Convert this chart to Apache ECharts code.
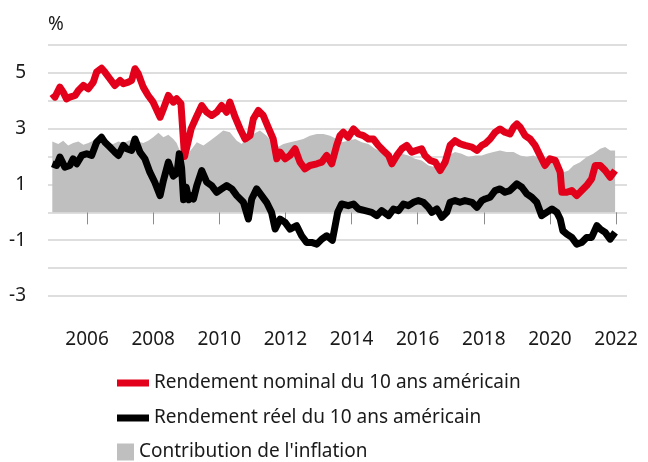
<!DOCTYPE html>
<html>
<head>
<meta charset="utf-8">
<script src="https://cdn.jsdelivr.net/npm/echarts@6/dist/echarts.min.js"></script>
<style>
  html, body { margin: 0; padding: 0; background: #fff; }
  #chart { width: 648px; height: 462px; }
</style>
</head>
<body>
<div id="chart"></div>
<script>
// Rendement nominal du 10 ans américain (années décimales / %)
const nominalYears = [2004.95,2005.03,2005.18,2005.28,2005.38,2005.48,2005.64,2005.74,2005.89,2006.04,2006.19,2006.29,2006.44,2006.54,2006.69,2006.84,2007.00,2007.10,2007.25,2007.35,2007.45,2007.55,2007.70,2007.85,2008.00,2008.21,2008.31,2008.46,2008.61,2008.71,2008.84,2008.95,2009.05,2009.15,2009.30,2009.47,2009.62,2009.77,2009.92,2010.07,2010.22,2010.32,2010.48,2010.63,2010.78,2010.93,2011.03,2011.18,2011.33,2011.48,2011.63,2011.74,2011.84,2011.99,2012.14,2012.29,2012.44,2012.59,2012.74,2012.95,2013.10,2013.25,2013.40,2013.55,2013.65,2013.75,2013.90,2014.06,2014.21,2014.36,2014.51,2014.66,2014.81,2014.96,2015.12,2015.22,2015.37,2015.52,2015.67,2015.82,2015.97,2016.12,2016.22,2016.38,2016.53,2016.68,2016.83,2016.98,2017.13,2017.28,2017.43,2017.64,2017.79,2017.94,2018.04,2018.19,2018.34,2018.49,2018.64,2018.79,2018.90,2019.00,2019.10,2019.25,2019.40,2019.55,2019.70,2019.85,2020.00,2020.16,2020.31,2020.36,2020.51,2020.66,2020.81,2020.96,2021.11,2021.26,2021.37,2021.52,2021.67,2021.82,2021.97];
const nominalValues = [4.25,4.13,4.49,4.31,4.07,4.13,4.19,4.37,4.55,4.43,4.67,5.03,5.17,5.03,4.79,4.55,4.73,4.61,4.67,4.73,5.15,4.97,4.49,4.19,3.95,3.41,3.71,4.19,3.95,4.07,3.90,2.00,2.50,3.00,3.40,3.83,3.59,3.47,3.59,3.83,3.59,3.95,3.41,2.99,2.63,2.75,3.35,3.65,3.47,3.05,2.63,1.92,2.16,1.92,2.04,2.28,1.80,1.56,1.68,1.74,1.80,2.04,1.74,2.40,2.75,2.87,2.69,2.99,2.81,2.75,2.63,2.63,2.40,2.22,2.04,1.74,2.04,2.28,2.40,2.16,2.22,2.28,2.04,1.86,1.80,1.50,1.80,2.40,2.57,2.46,2.40,2.34,2.22,2.40,2.46,2.63,2.87,2.99,2.87,2.81,3.05,3.17,3.05,2.75,2.63,2.40,2.04,1.68,1.92,1.86,1.44,0.72,0.72,0.78,0.60,0.78,0.96,1.20,1.68,1.68,1.50,1.26,1.50];

// Rendement réel du 10 ans américain
const realYears = [2004.95,2005.08,2005.18,2005.33,2005.48,2005.58,2005.69,2005.84,2005.99,2006.14,2006.29,2006.44,2006.54,2006.69,2006.84,2006.95,2007.10,2007.20,2007.35,2007.45,2007.60,2007.75,2007.90,2008.05,2008.21,2008.31,2008.46,2008.61,2008.72,2008.79,2008.86,2008.92,2009.00,2009.08,2009.14,2009.22,2009.32,2009.47,2009.62,2009.77,2009.92,2010.07,2010.22,2010.38,2010.53,2010.73,2010.88,2010.98,2011.13,2011.28,2011.43,2011.58,2011.69,2011.84,2011.99,2012.14,2012.34,2012.49,2012.64,2012.79,2012.95,2013.10,2013.25,2013.42,2013.50,2013.58,2013.70,2013.90,2014.06,2014.21,2014.41,2014.61,2014.76,2014.91,2015.12,2015.27,2015.42,2015.57,2015.72,2015.87,2016.02,2016.17,2016.32,2016.43,2016.58,2016.73,2016.88,2016.98,2017.13,2017.28,2017.43,2017.64,2017.79,2017.94,2018.04,2018.19,2018.34,2018.49,2018.64,2018.79,2019.00,2019.15,2019.30,2019.45,2019.60,2019.75,2019.90,2020.06,2020.21,2020.31,2020.39,2020.51,2020.66,2020.81,2020.96,2021.11,2021.26,2021.42,2021.52,2021.67,2021.82,2021.97];
const realValues = [1.74,1.68,1.98,1.62,1.68,1.92,1.74,2.04,2.10,2.04,2.51,2.69,2.51,2.34,2.16,2.04,2.40,2.28,2.22,2.63,2.16,1.92,1.44,1.08,0.60,1.14,1.80,1.30,1.40,2.10,1.60,0.45,0.90,0.45,0.60,0.48,0.96,1.50,1.08,0.96,0.72,0.84,0.96,0.84,0.60,0.36,-0.24,0.48,0.84,0.60,0.36,0.00,-0.60,-0.24,-0.36,-0.60,-0.48,-0.84,-1.08,-1.08,-1.14,-0.96,-0.84,-1.00,-0.50,0.00,0.30,0.24,0.30,0.12,0.06,0.00,-0.12,0.06,-0.12,0.12,0.06,0.30,0.24,0.36,0.42,0.36,0.18,0.00,0.12,-0.18,0.00,0.36,0.42,0.36,0.42,0.36,0.18,0.42,0.48,0.54,0.78,0.84,0.72,0.78,1.02,0.90,0.66,0.54,0.36,-0.12,0.00,0.12,0.00,-0.24,-0.66,-0.78,-0.90,-1.14,-1.08,-0.90,-0.90,-0.48,-0.60,-0.72,-0.96,-0.72];

// Contribution de l'inflation
const inflationYears = [2004.95,2005.13,2005.28,2005.43,2005.58,2005.74,2005.89,2006.04,2006.19,2006.34,2006.49,2006.64,2006.79,2006.95,2007.10,2007.25,2007.40,2007.55,2007.70,2007.85,2008.00,2008.16,2008.31,2008.46,2008.61,2008.71,2008.81,2008.92,2009.02,2009.12,2009.32,2009.52,2009.72,2009.92,2010.12,2010.32,2010.53,2010.68,2010.83,2011.03,2011.23,2011.43,2011.63,2011.79,2011.94,2012.14,2012.34,2012.54,2012.74,2012.95,2013.15,2013.35,2013.55,2013.70,2013.90,2014.11,2014.31,2014.51,2014.71,2014.91,2015.12,2015.32,2015.52,2015.72,2015.92,2016.12,2016.33,2016.53,2016.73,2016.93,2017.13,2017.33,2017.54,2017.74,2017.94,2018.09,2018.29,2018.49,2018.69,2018.90,2019.10,2019.30,2019.50,2019.70,2019.90,2020.11,2020.31,2020.41,2020.56,2020.71,2020.91,2021.11,2021.31,2021.52,2021.67,2021.82,2021.97];
const inflationValues = [2.54,2.45,2.57,2.40,2.49,2.54,2.42,2.49,2.57,2.49,2.42,2.49,2.45,2.54,2.49,2.57,2.63,2.54,2.49,2.57,2.69,2.85,2.69,2.78,2.63,2.49,2.20,1.85,1.95,2.20,2.51,2.40,2.57,2.75,2.93,2.87,2.57,2.45,2.69,2.81,2.93,2.75,2.45,2.35,2.45,2.51,2.57,2.63,2.75,2.81,2.81,2.75,2.63,2.51,2.57,2.63,2.51,2.45,2.28,2.16,2.04,1.98,2.10,2.04,1.92,1.86,1.68,1.62,1.56,2.04,2.16,2.10,1.98,2.04,2.04,2.10,2.16,2.22,2.16,2.16,2.04,1.98,2.04,1.92,1.80,1.80,1.68,1.44,1.50,1.68,1.80,1.98,2.10,2.28,2.34,2.22,2.22];

const yearTicks = [2006, 2008, 2010, 2012, 2014, 2016, 2018, 2020, 2022];

const seriesNames = [
    'Rendement nominal du 10 ans américain',
    'Rendement réel du 10 ans américain',
    "Contribution de l'inflation"
];

function pairs(xs, ys) {
    return xs.map((x, i) => [x, ys[i]]);
}

const FONT = '"Noto Sans", "DejaVu Sans", sans-serif';
const chart = echarts.init(document.getElementById('chart'));

chart.setOption({
    animation: false,
    backgroundColor: '#fff',
    textStyle: {fontFamily: FONT},
    grid: {left: 48, right: 21, top: 45, bottom: 166, containLabel: false, outerBoundsMode: 'none'},
    legend: [{
        data: [seriesNames[0], seriesNames[1]],
        orient: 'vertical',
        left: 117,
        top: 372,
        padding: 0,
        icon: 'rect',
        itemWidth: 32,
        itemHeight: 7,
        itemGap: 13,
        selectedMode: false,
        textStyle: {fontSize: 19, color: '#1a1a1a', lineHeight: 22, fontFamily: FONT}
    }, {
        data: [seriesNames[2]],
        orient: 'vertical',
        left: 117,
        top: 441,
        padding: 0,
        icon: 'rect',
        itemWidth: 17,
        itemHeight: 17,
        selectedMode: false,
        textStyle: {fontSize: 19, color: '#1a1a1a', lineHeight: 22, fontFamily: FONT}
    }],
    xAxis: {
        type: 'value',
        min: 2004.82,
        max: 2022.33,
        offset: 20,
        axisLine: {show: false},
        axisTick: {show: true, customValues: yearTicks, length: 12, lineStyle: {color: '#8c8c8c', width: 1}},
        axisLabel: {customValues: yearTicks, formatter: v => String(v), margin: 14,
            fontSize: 19, color: '#1a1a1a', fontFamily: FONT},
        splitLine: {show: false}
    },
    yAxis: {
        type: 'value',
        min: -3,
        max: 6,
        interval: 1,
        name: '%',
        nameLocation: 'end',
        nameGap: 11,
        nameTextStyle: {align: 'left', fontSize: 19, color: '#1a1a1a', fontFamily: FONT},
        axisLine: {show: false},
        axisTick: {show: false},
        axisLabel: {margin: 22, fontSize: 19, color: '#1a1a1a', fontFamily: FONT,
            formatter: v => (Math.abs(v) % 2 === 1 ? String(v) : '')},
        splitLine: {lineStyle: {color: '#d3d3d3', width: 1.5}}
    },
    series: [{
        name: seriesNames[2],
        type: 'line',
        data: pairs(inflationYears, inflationValues),
        symbol: 'none',
        color: '#bfbfbf',
        lineStyle: {width: 0},
        areaStyle: {color: '#bfbfbf', opacity: 1},
        z: 1
    }, {
        name: seriesNames[0],
        type: 'line',
        data: pairs(nominalYears, nominalValues),
        symbol: 'none',
        color: '#e2001a',
        lineStyle: {width: 7, color: '#e2001a', join: 'round'},
        z: 2
    }, {
        name: seriesNames[1],
        type: 'line',
        data: pairs(realYears, realValues),
        symbol: 'none',
        color: '#000000',
        lineStyle: {width: 7, color: '#000000', join: 'round'},
        z: 3
    }]
});
</script>
</body>
</html>
